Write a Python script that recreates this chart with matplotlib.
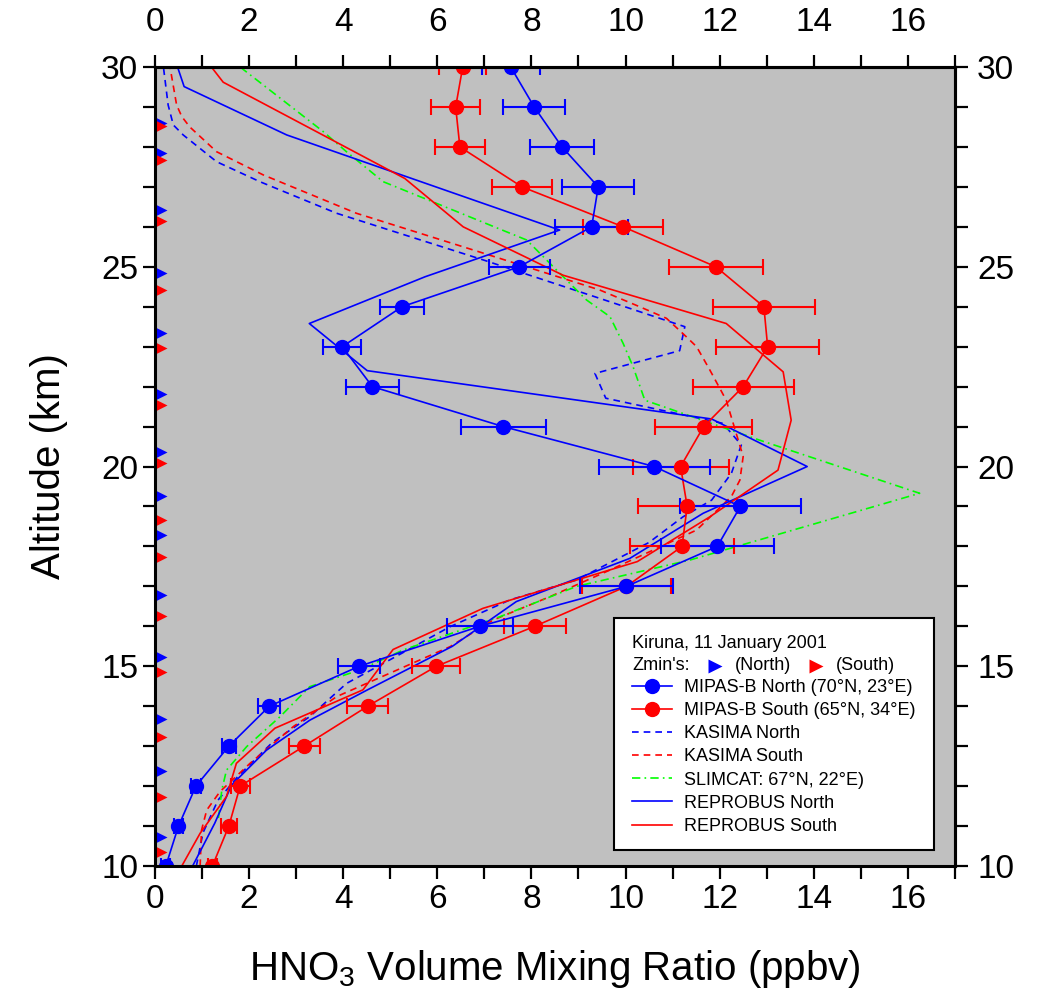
import numpy as np
import matplotlib
matplotlib.use("Agg")
import matplotlib.pyplot as plt
from matplotlib.patches import Rectangle
from matplotlib.lines import Line2D

plt.rcParams['font.family'] = ['Liberation Sans', 'DejaVu Sans']
plt.rcParams['mathtext.default'] = 'regular'

# MIPAS-B measurements, 10..30 km
alt_mipas = np.arange(10, 31)
mipas_n = [0.23, 0.50, 0.87, 1.57, 2.43, 4.34, 6.90, 10.02, 11.95, 12.44, 10.61,
           7.40, 4.62, 3.98, 5.25, 7.74, 9.28, 9.42, 8.65, 8.06, 7.56]
mipas_n_err = [0.10, 0.10, 0.10, 0.15, 0.23, 0.44, 0.70, 0.98, 1.20, 1.29, 1.18,
               0.90, 0.56, 0.40, 0.46, 0.65, 0.77, 0.77, 0.69, 0.66, 0.62]
mipas_s = [1.22, 1.57, 1.81, 3.17, 4.52, 5.98, 8.07, 10.02, 11.20, 11.31, 11.17,
           11.66, 12.50, 13.02, 12.94, 11.92, 9.95, 7.80, 6.48, 6.39, 6.54]
mipas_s_err = [0.10, 0.17, 0.20, 0.33, 0.44, 0.51, 0.66, 0.95, 1.10, 1.05, 1.02,
               1.03, 1.07, 1.10, 1.08, 1.00, 0.85, 0.64, 0.53, 0.52, 0.50]

# KASIMA
kas_n_alt = [10.0, 10.83, 11.65, 12.24, 13.1, 13.74, 14.57, 15.16, 15.99, 16.66, 17.16,
             18.1, 18.74, 19.16, 19.83, 20.54, 21.08, 21.71, 22.33, 22.9, 23.5, 24.21,
             25.17, 26.34, 27.13, 27.63, 28.3, 28.55, 29.05, 30.0]
kas_n = [0.88, 1.02, 1.34, 1.76, 2.50, 3.29, 4.07, 4.99, 6.27, 7.54, 8.96,
         10.5, 11.22, 11.83, 12.25, 12.46, 12.07, 9.58, 9.35, 11.15, 11.26, 9.45,
         6.98, 3.86, 2.23, 1.31, 0.60, 0.39, 0.28, 0.18]
kas_s_alt = [10.0, 10.90, 11.4, 11.86, 12.57, 13.49, 14.24, 15.49, 16.16, 16.74, 17.41,
             18.41, 19.25, 19.66, 20.25, 21.66, 22.42, 23.0, 23.25, 23.71, 24.0, 24.42,
             25.34, 26.34, 27.3, 27.88, 28.5, 28.76, 29.05, 30.0]
kas_s = [0.96, 0.99, 1.10, 1.38, 2.02, 2.94, 3.86, 6.27, 7.19, 8.39, 9.67,
         11.51, 12.25, 12.43, 12.50, 12.14, 11.79, 11.51, 11.29, 10.87, 10.30, 9.45,
         6.98, 4.28, 2.30, 1.31, 0.74, 0.57, 0.46, 0.32]

# SLIMCAT
slim_alt = [11.2, 11.9, 12.4, 12.99, 13.74, 14.49, 14.91, 15.41, 16.24, 17.0, 17.66,
            19.33, 20.66, 21.66, 22.5, 23.08, 23.75, 24.17, 24.84, 25.67, 27.13,
            27.88, 28.38, 30.0]
slim = [1.35, 1.42, 1.52, 1.95, 2.66, 3.29, 4.36, 5.28, 7.33, 8.96, 11.37,
        16.25, 12.85, 10.41, 10.16, 9.95, 9.67, 9.17, 8.60, 7.90, 4.85,
        4.07, 3.58, 1.81]

# REPROBUS
rep_n_alt = [10.0, 11.07, 12.03, 12.9, 13.65, 14.4, 15.5, 16.62, 17.7, 18.83, 20.0,
             21.19, 22.4, 23.58, 24.75, 25.92, 28.3, 29.51, 30.0]
rep_n = [0.80, 1.27, 1.63, 2.37, 3.29, 4.50, 6.32, 7.68, 10.09, 11.65, 13.86,
         11.83, 4.51, 3.28, 5.74, 8.60, 2.80, 0.62, 0.48]
rep_s_alt = [10.0, 10.82, 11.74, 12.57, 13.45, 14.41, 15.42, 16.45, 17.62, 18.74, 19.91,
             21.16, 22.37, 23.58, 24.79, 26.0, 27.21, 29.62, 30.0]
rep_s = [0.57, 0.96, 1.52, 1.73, 2.55, 4.42, 5.06, 6.97, 10.25, 11.79, 13.24,
         13.52, 13.35, 12.14, 8.67, 6.55, 5.31, 1.45, 1.20]

# Zmin's (lowest tangent altitudes)
zmin_n = [28.61, 27.86, 26.41, 24.84, 23.34, 21.81, 20.36, 19.26, 18.29, 16.78,
          15.24, 13.68, 12.39, 10.73]
zmin_s = [28.52, 27.67, 26.15, 24.42, 22.97, 21.54, 20.09, 18.66, 17.74, 16.27,
          14.86, 13.24, 11.73, 10.36]

BLUE = '#0000ff'
RED = '#ff0000'
GREEN = '#00ff00'
DASH = (0, (4, 3))
DASHDOT = (0, (5, 2.5, 1, 2.5))

fig = plt.figure(figsize=(10.4, 9.96), dpi=100)
ax = fig.add_axes([0.149, 0.1305, 0.7692, 0.8022])
ax.set_facecolor('#c0c0c0')

lw = 1.2
ax.plot(kas_n, kas_n_alt, color=BLUE, lw=lw, ls=DASH)
ax.plot(kas_s, kas_s_alt, color=RED, lw=lw, ls=DASH)
ax.plot(slim, slim_alt, color=GREEN, lw=lw, ls=DASHDOT)
ax.plot(rep_n, rep_n_alt, color=BLUE, lw=lw)
ax.plot(rep_s, rep_s_alt, color=RED, lw=lw)

for xs, err, c in [(mipas_s, mipas_s_err, RED), (mipas_n, mipas_n_err, BLUE)]:
    ax.errorbar(xs, alt_mipas, xerr=err, color=c, lw=lw, elinewidth=1.5,
                capsize=6, capthick=1.5, marker='o', ms=10, mec=c, mfc=c)

ax.plot(np.full(len(zmin_n), 0.12), zmin_n, ls='none', marker='>', ms=8,
        color=BLUE, mec='none')
ax.plot(np.full(len(zmin_s), 0.12), zmin_s, ls='none', marker='>', ms=8,
        color=RED, mec='none')

ax.set_xlim(0, 17)
ax.set_ylim(10, 30)
xmaj = np.arange(0, 17, 2)
xmin = np.arange(0, 18, 1)
ymaj = [10, 15, 20, 25, 30]
ymin = np.arange(10, 31, 1)
ax.set_xticks(xmaj)
ax.set_xticks(xmin, minor=True)
ax.set_yticks(ymaj)
ax.set_yticks(ymin, minor=True)
for s in ax.spines.values():
    s.set_linewidth(2.2)
tick_kw = dict(which='both', direction='out', length=9, width=1.6, labelsize=24)
ax.tick_params(**tick_kw)
ax.tick_params(axis='x', which='major', pad=4)
ax.tick_params(axis='y', which='major', pad=3)

top = ax.secondary_xaxis('top')
top.set_xticks(xmaj)
top.set_xticks(xmin, minor=True)
top.tick_params(**tick_kw)
top.tick_params(axis='x', which='major', pad=12)
right = ax.secondary_yaxis('right')
right.set_yticks(ymaj)
right.set_yticks(ymin, minor=True)
right.tick_params(**tick_kw)
right.tick_params(axis='y', which='major', pad=7)
for a in (top, right):
    for s in a.spines.values():
        s.set_linewidth(2.2)

ax.set_ylabel('Altitude (km)', fontsize=29, labelpad=24)
ax.set_xlabel('HNO$_3$ Volume Mixing Ratio (ppbv)', fontsize=29, labelpad=24)

# legend box
box = Rectangle((614, 146), 320, 232, transform=None, facecolor='white',
                edgecolor='black', lw=1.5, zorder=5)
fig.patches.append(box)
fs = 13
fig.text(632 / 1040, 1 - 643 / 996, 'Kiruna, 11 January 2001', fontsize=fs,
         va='center', zorder=6)
fig.text(632 / 1040, 1 - 666 / 996, "Zmin's:", fontsize=fs, va='center', zorder=6)
fig.text(735 / 1040, 1 - 666 / 996, '(North)', fontsize=fs, va='center', zorder=6)
fig.text(836 / 1040, 1 - 666 / 996, '(South)', fontsize=fs, va='center', zorder=6)
fig.add_artist(Line2D([715 / 1040], [1 - 666 / 996], marker='>', ms=10,
                      color=BLUE, mec='none', ls='none', zorder=6))
fig.add_artist(Line2D([816 / 1040], [1 - 666 / 996], marker='>', ms=10,
                      color=RED, mec='none', ls='none', zorder=6))

handles = [
    Line2D([], [], color=BLUE, lw=lw, marker='o', ms=10),
    Line2D([], [], color=RED, lw=lw, marker='o', ms=10),
    Line2D([], [], color=BLUE, lw=lw, ls=DASH),
    Line2D([], [], color=RED, lw=lw, ls=DASH),
    Line2D([], [], color=GREEN, lw=lw, ls=DASHDOT),
    Line2D([], [], color=BLUE, lw=lw),
    Line2D([], [], color=RED, lw=lw),
]
labels = ['MIPAS-B North (70°N, 23°E)', 'MIPAS-B South (65°N, 34°E)',
          'KASIMA North', 'KASIMA South', 'SLIMCAT: 67°N, 22°E)',
          'REPROBUS North', 'REPROBUS South']
leg = fig.legend(handles, labels, loc='upper left',
                 bbox_to_anchor=(632 / 1040, 1 - 679 / 996), frameon=False,
                 fontsize=fs, handlelength=2.2, handletextpad=0.7,
                 labelspacing=0.34, borderpad=0, borderaxespad=0)
leg.set_zorder(7)

fig.savefig('out.png', dpi=100)
